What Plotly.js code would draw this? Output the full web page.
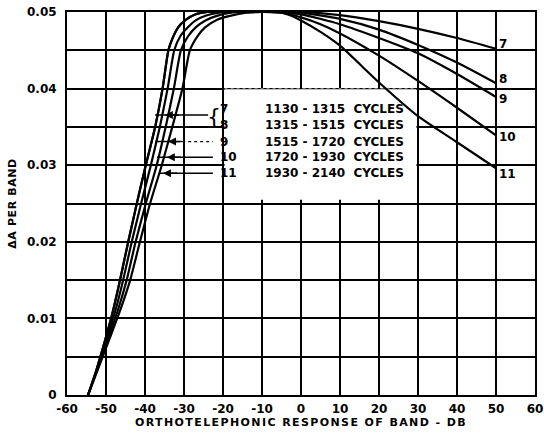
<!DOCTYPE html>
<html>
<head>
<meta charset="utf-8">
<script src="https://cdn.plot.ly/plotly-3.0.1.min.js"></script>
<style>
html,body{margin:0;padding:0;background:#fff;}
#chart{width:544px;height:435px;}
text.xtitle{letter-spacing:1.4px;}
text.ytitle{letter-spacing:0.6px;}
</style>
</head>
<body>
<div id="chart"></div>
<script>
// ---- data ----
const bandNames = ["7", "8", "9", "10", "11"];
const bandRanges = ["1130 - 1315\u00A0\u00A0CYCLES", "1315 - 1515\u00A0\u00A0CYCLES", "1515 - 1720\u00A0\u00A0CYCLES", "1720 - 1930\u00A0\u00A0CYCLES", "1930 - 2140\u00A0\u00A0CYCLES"];

const band7_x = [-54.6, -52.5, -50.2, -48.2, -46.4, -44.3, -42.1, -39.8, -37.4, -35.5, -34.0, -33.0, -31.5, -29.5, -27, -24, -18, -10, -5, 0, 10, 20, 30, 40, 50];
const band7_y = [0, 0.0032, 0.0072, 0.011, 0.015, 0.020, 0.025, 0.030, 0.035, 0.040, 0.045, 0.0465, 0.048, 0.049, 0.0497, 0.05, 0.05, 0.05, 0.05, 0.0500, 0.0496, 0.0488, 0.0478, 0.0466, 0.0452];

const band8_x = [-54.6, -52.5, -50.2, -48.2, -46.4, -44.3, -42.1, -39.8, -37.4, -35.5, -34.0, -33.0, -31.5, -29.5, -27, -24, -18, -10, -5, 0, 10, 20, 30, 40, 50];
const band8_y = [0, 0.0032, 0.0072, 0.011, 0.015, 0.020, 0.025, 0.030, 0.035, 0.040, 0.045, 0.0465, 0.048, 0.049, 0.0497, 0.05, 0.05, 0.05, 0.05, 0.0499, 0.0491, 0.0477, 0.0457, 0.0434, 0.0407];

const band9_x = [-54.6, -52.4, -49.9, -47.6, -45.6, -43.4, -41.0, -38.5, -36.2, -34.2, -32.5, -31.0, -29.0, -27, -24.5, -21, -17, -10, -5, 0, 10, 20, 30, 40, 50];
const band9_y = [0, 0.0032, 0.0072, 0.011, 0.015, 0.020, 0.025, 0.030, 0.035, 0.040, 0.045, 0.0468, 0.048, 0.0489, 0.0495, 0.0499, 0.05, 0.05, 0.0499, 0.0497, 0.0484, 0.0466, 0.0446, 0.0419, 0.0389];

const band10_x = [-54.6, -52.3, -49.6, -47.0, -44.7, -42.4, -39.8, -37.0, -34.7, -32.6, -30.8, -29.0, -27.0, -24.5, -21.6, -18, -14, -8, -5, 0, 5, 10, 20, 30, 40, 50];
const band10_y = [0, 0.0032, 0.0072, 0.011, 0.015, 0.020, 0.025, 0.030, 0.035, 0.040, 0.045, 0.0468, 0.048, 0.0489, 0.0495, 0.0499, 0.05, 0.05, 0.0499, 0.0493, 0.0484, 0.0472, 0.0443, 0.0410, 0.0375, 0.0339];

const band11_x = [-54.6, -52.2, -49.2, -46.4, -43.8, -41.3, -38.7, -35.7, -33.0, -30.4, -28.5, -26.6, -24.6, -21.5, -18.2, -14, -10, -6, -3, 0, 5, 10, 20, 30, 40, 50];
const band11_y = [0, 0.0032, 0.0072, 0.011, 0.015, 0.020, 0.025, 0.030, 0.035, 0.040, 0.045, 0.0468, 0.048, 0.049, 0.0495, 0.0499, 0.05, 0.05, 0.0496, 0.0489, 0.0474, 0.0456, 0.0408, 0.0364, 0.0330, 0.0296];

const xTicks = [-60, -50, -40, -30, -20, -10, 0, 10, 20, 30, 40, 50, 60];
const xTickText = ["-60", "-50", "-40", "-30", "-20", "-10", "0", "10", "20", "30", "40", "50", "60"];
const yTicks = [0, 0.01, 0.02, 0.03, 0.04, 0.05];
const yTickText = ["0", "0.01", "0.02", "0.03", "0.04", "0.05"];

// legend key rows (y positions of the labels and leader lines in the key)
const keyRowY = [0.03734, 0.03525, 0.03309, 0.03103, 0.02894];
const arrowRowY = [0.03655, 0.03309, 0.03103, 0.02894];
const arrowTip = [-34.9, -34.1, -34.4, -35.4];
const arrowStart = [-37.4, -37.4, -36.9, -36.4];
const arrowEnd = [-23.8, -22.6, -22.6, -22.6];

const FONT = "DejaVu Sans";
const bandX = [band7_x, band8_x, band9_x, band10_x, band11_x];
const bandY = [band7_y, band8_y, band9_y, band10_y, band11_y];

const traces = bandNames.map((n, i) => ({
  type: "scatter", mode: "lines", name: n,
  x: bandX[i], y: bandY[i],
  line: {color: "#000", width: 2.2, shape: "spline", smoothing: 0.6},
  hoverinfo: "skip", showlegend: false
}));

const annotations = [];
// end labels
const endShift = [5, 4, -2, -2, -6];
bandNames.forEach((n, i) => {
  const xs = bandX[i], ys = bandY[i];
  annotations.push({x: xs[xs.length - 1], y: ys[ys.length - 1], xref: "x", yref: "y",
    text: n, showarrow: false, xanchor: "left", yanchor: "middle", xshift: 1, yshift: endShift[i],
    font: {family: FONT, size: 12, color: "#000", weight: "bold"}});
});
// key labels
bandNames.forEach((n, i) => {
  annotations.push({x: -21.3, y: keyRowY[i], xref: "x", yref: "y", text: n, showarrow: false,
    xanchor: "left", yanchor: "middle", font: {family: FONT, size: 12, color: "#000", weight: "bold"}});
  annotations.push({x: -9.7, y: keyRowY[i], xref: "x", yref: "y", text: bandRanges[i], showarrow: false,
    xanchor: "left", yanchor: "middle", font: {family: FONT, size: 12, color: "#000", weight: "bold"}});
});
// bracket for 7 & 8
annotations.push({x: -22.3, y: (keyRowY[0] + keyRowY[1]) / 2, xref: "x", yref: "y", text: "{", showarrow: false,
  xanchor: "center", yanchor: "middle", font: {family: FONT, size: 22, color: "#000"}});
// arrow heads
arrowRowY.forEach((yy, i) => {
  annotations.push({x: arrowTip[i], y: yy, ax: arrowTip[i] + 4, ay: yy, xref: "x", yref: "y", axref: "x", ayref: "y",
    text: "", showarrow: true, arrowhead: 2, arrowsize: 1, arrowwidth: 1.6, arrowcolor: "#000", standoff: 0});
});

const shapes = [
  {type: "rect", xref: "x", yref: "y", x0: -19.6, x1: 29.6, y0: 0.0255, y1: 0.0399,
   fillcolor: "#fff", line: {width: 0}, layer: "between"},
  {type: "line", xref: "x", yref: "y", x0: -19.6, x1: 29.6, y0: 0.04, y1: 0.04,
   line: {color: "#888", width: 1, dash: "dot"}, layer: "between"}
];
arrowRowY.forEach((yy, i) => {
  if (i === 1) {
    shapes.push({type: "line", xref: "x", yref: "y", x0: arrowStart[i], x1: -32.0, y0: yy, y1: yy, line: {color: "#000", width: 1.5}});
    shapes.push({type: "line", xref: "x", yref: "y", x0: -32.0, x1: arrowEnd[i], y0: yy, y1: yy, line: {color: "#000", width: 1.2, dash: "dot"}});
  } else {
    shapes.push({type: "line", xref: "x", yref: "y", x0: arrowStart[i], x1: arrowEnd[i], y0: yy, y1: yy, line: {color: "#000", width: 1.5}});
  }
});

const layout = {
  width: 544, height: 435,
  margin: {l: 67, r: 9, t: 12, b: 40},
  paper_bgcolor: "#fff", plot_bgcolor: "#fff",
  showlegend: false,
  font: {family: FONT, color: "#000"},
  xaxis: {
    range: [-60, 60], tickvals: xTicks, ticktext: xTickText,
    showgrid: true, gridcolor: "#000", gridwidth: 2,
    zeroline: false, showline: true, mirror: true, linecolor: "#000", linewidth: 2,
    ticks: "", ticklabelstandoff: 2,
    tickfont: {family: FONT, size: 12, color: "#000", weight: "bold"},
    title: {text: "ORTHOTELEPHONIC RESPONSE OF BAND - DB", standoff: 2,
            font: {family: FONT, size: 11, color: "#000", weight: "bold"}}
  },
  yaxis: {
    range: [0, 0.05], tickvals: yTicks, ticktext: yTickText,
    showgrid: true, gridcolor: "#000", gridwidth: 2,
    minor: {tickvals: [0.005, 0.015, 0.025, 0.035, 0.045], showgrid: true, gridcolor: "#000", gridwidth: 2, ticks: ""},
    zeroline: false, showline: true, mirror: true, linecolor: "#000", linewidth: 2,
    ticks: "", ticklabelstandoff: 6,
    tickfont: {family: FONT, size: 12, color: "#000", weight: "bold"},
    title: {text: "\u0394A PER BAND", standoff: 8,
            font: {family: FONT, size: 11, color: "#000", weight: "bold"}}
  },
  shapes: shapes,
  annotations: annotations
};

Plotly.newPlot("chart", traces, layout, {displayModeBar: false, staticPlot: true});
</script>
</body>
</html>
